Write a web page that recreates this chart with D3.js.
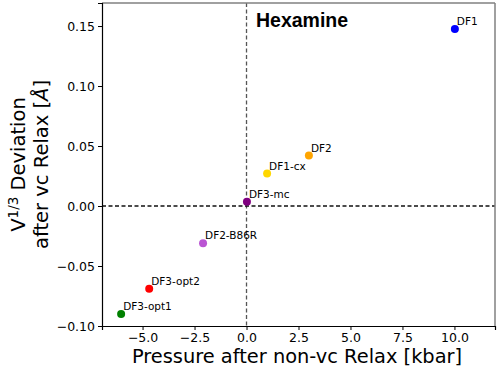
<!DOCTYPE html>
<html><head><meta charset="utf-8">
<script src="https://cdn.jsdelivr.net/npm/d3@7"></script>
<style>body{margin:0;background:#fff;} svg{display:block;font-family:"DejaVu Sans",sans-serif;}</style>
</head><body>
<svg id="c" width="498" height="372"></svg>
<script>
const labels = ["DF1","DF2","DF1-cx","DF3-mc","DF2-B86R","DF3-opt2","DF3-opt1"];
const pressure = [10.02, 3.0, 0.99, 0.02, -2.09, -4.68, -6.03];
const deviation = [0.1475, 0.042, 0.027, 0.0035, -0.031, -0.069, -0.090];
const colors = ["#0000ff","#ffa500","#ffd700","#800080","#ba55d3","#ff0000","#008000"];
const xTicks = [-5.0, -2.5, 0.0, 2.5, 5.0, 7.5, 10.0];
const yTicks = [-0.10, -0.05, 0.00, 0.05, 0.10, 0.15];

const svg = d3.select("#c");
const L = 102, R = 495, T = 3, B = 326;
const x = d3.scaleLinear().domain([-6.95, 11.95]).range([L, R]);
const y = d3.scaleLinear().domain([-0.10, 0.1692]).range([B, T]);

// zero lines
svg.append("line").attr("x1", x(0)).attr("x2", x(0)).attr("y1", T).attr("y2", B)
  .attr("stroke", "#555").attr("stroke-width", 1.3).attr("stroke-dasharray", "4,2.5");
svg.append("line").attr("x1", L).attr("x2", R).attr("y1", y(0)).attr("y2", y(0))
  .attr("stroke", "#111").attr("stroke-width", 1.3).attr("stroke-dasharray", "4,2.5");

// frame
svg.append("line").attr("x1", L).attr("x2", R).attr("y1", T).attr("y2", T).attr("stroke", "#808080").attr("stroke-width", 1.5);
svg.append("line").attr("x1", R).attr("x2", R).attr("y1", T).attr("y2", B).attr("stroke", "#808080").attr("stroke-width", 1.5);

const xa = svg.append("g").attr("transform", `translate(0,${B})`)
  .call(d3.axisBottom(x).tickValues(xTicks).tickFormat(d => d3.format(".1f")(d).replace("-", "\u2212")).tickSize(4).tickPadding(3));
const ya = svg.append("g").attr("transform", `translate(${L},0)`)
  .call(d3.axisLeft(y).tickValues(yTicks).tickFormat(d => d3.format(".2f")(d).replace("-", "\u2212")).tickSize(4).tickPadding(3));
[xa, ya].forEach(a => {
  a.selectAll("text").attr("font-size", 12.5).attr("fill", "#000").attr("font-family", "DejaVu Sans");
  a.selectAll("line").attr("stroke", "#000").attr("stroke-width", 1);
  a.select(".domain").attr("stroke", "#000").attr("stroke-width", 1.2);
});

// points
const data = labels.map((l, i) => ({l, px: pressure[i], dv: deviation[i], c: colors[i]}));
svg.selectAll("circle.pt").data(data).enter().append("circle")
  .attr("cx", d => x(d.px)).attr("cy", d => y(d.dv)).attr("r", 4).attr("fill", d => d.c);
svg.selectAll("text.lb").data(data).enter().append("text")
  .attr("x", d => x(d.px) + 2).attr("y", d => y(d.dv) - 4)
  .attr("font-size", 10.5).attr("fill", "#000").text(d => d.l);

// title
svg.append("text").attr("x", 256).attr("y", 27).attr("font-size", 19.5).attr("font-weight", "bold")
  .attr("font-family", "Liberation Sans, Arial, sans-serif").text("Hexamine");

// x label
svg.append("text").attr("x", 297).attr("y", 363).attr("text-anchor", "middle")
  .attr("font-size", 19.4).text("Pressure after non-vc Relax [kbar]");

// y label
const yl = svg.append("g").attr("transform", `translate(0,${(T + B) / 2}) rotate(-90)`);
const t1 = yl.append("text").attr("x", 0).attr("y", 25).attr("text-anchor", "middle").attr("font-size", 19.5);
t1.append("tspan").text("V");
t1.append("tspan").attr("font-size", 13.5).attr("dy", -7.5).text("1/3");
t1.append("tspan").attr("dy", 7.5).text(" Deviation");
const t2 = yl.append("text").attr("x", 0).attr("y", 48).attr("text-anchor", "middle").attr("font-size", 19.5);
t2.append("tspan").text("after vc Relax [");
t2.append("tspan").attr("font-style", "italic").text("Å");
t2.append("tspan").text("]");
</script>
</body></html>
